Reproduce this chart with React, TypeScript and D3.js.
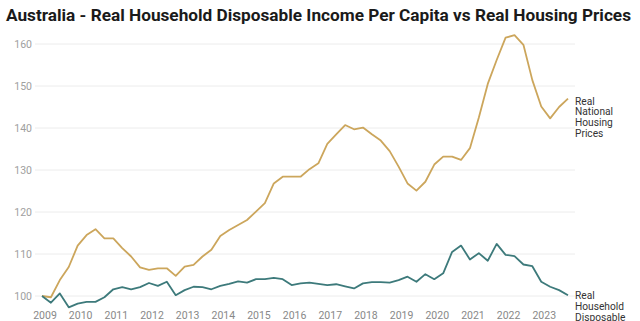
import React from "react";
import * as d3 from "d3";

const startYear = 2009;
const housing: number[] = [
  100, 99.7, 103.8, 106.9, 112, 114.5, 115.9, 113.7, 113.7, 111.4,
  109.4, 106.8, 106.2, 106.6, 106.6, 104.8, 107, 107.4, 109.4, 111,
  114.3, 115.7, 116.9, 118.1, 120.1, 122.1, 126.8, 128.4, 128.4, 128.4,
  130.2, 131.6, 136.2, 138.5, 140.7, 139.7, 140.1, 138.5, 137, 134.5,
  130.8, 126.8, 125.1, 127.2, 131.3, 133.2, 133.2, 132.4, 135.2, 142.5,
  150.5, 156.2, 161.5, 162.1, 159.8, 151.4, 145.1, 142.3, 145, 147,
];
const income: number[] = [
  100, 98.4, 100.6, 97.3, 98.2, 98.6, 98.6, 99.7, 101.6, 102.1,
  101.6, 102.1, 103.1, 102.4, 103.4, 100.2, 101.4, 102.2, 102.1, 101.6,
  102.4, 102.9, 103.5, 103.2, 104, 104, 104.3, 104, 102.6, 103,
  103.2, 102.9, 102.6, 102.8, 102.3, 101.8, 103, 103.3, 103.3, 103.2,
  103.8, 104.6, 103.4, 105.2, 104, 105.4, 110.5, 112, 108.7, 110.2,
  108.4, 112.4, 109.8, 109.5, 107.5, 107.1, 103.4, 102.2, 101.4, 100.2,
];
const yTicks = [100, 110, 120, 130, 140, 150, 160];
const xTicks = d3.range(2009, 2024);
const housingLabel = ["Real", "National", "Housing", "Prices"];
const incomeLabel = ["Real", "Household", "Disposable"];
const title = "Australia - Real Household Disposable Income Per Capita vs Real Housing Prices";

const W = 640;
const H = 321;

export default function App() {
  const x = d3.scaleLinear().domain([2009, 2023.75]).range([42, 568]);
  const y = d3.scaleLinear().domain([100, 160]).range([296, 44]);
  const line = d3
    .line<number>()
    .x((_, i) => x(startYear + i / 4))
    .y((d) => y(d))
    .curve(d3.curveLinear);
  const font = "Roboto, 'Noto Sans', sans-serif";
  return (
    <svg
      width={W}
      height={H}
      style={{ position: "absolute", left: 0, top: 0, background: "#fff" }}
      fontFamily={font}
    >
      <rect width={W} height={H} fill="#fff" />
      <text
        x={6}
        y={21}
        fontSize={17}
        fontWeight={700}
        fill="#1a1a1a"
        textLength={625}
        lengthAdjust="spacingAndGlyphs"
      >
        {title}
      </text>
      {yTicks.map((t) => (
        <g key={t}>
          <line x1={35} x2={575} y1={y(t)} y2={y(t)} stroke="#ececec" strokeWidth={1} />
          <text x={32} y={y(t) + 4} fontSize={10.5} fill="#a0a0a0" textAnchor="end">
            {t}
          </text>
        </g>
      ))}
      {xTicks.map((t) => (
        <text key={t} x={x(t) + 3} y={319} fontSize={10.5} fill="#888" textAnchor="middle">
          {t}
        </text>
      ))}
      <path d={line(housing) || ""} fill="none" stroke="#cca65c" strokeWidth={1.8} strokeLinejoin="round" />
      <path d={line(income) || ""} fill="none" stroke="#3d7a7b" strokeWidth={1.8} strokeLinejoin="round" />
      {housingLabel.map((s, i) => (
        <text key={s} x={575} y={y(housing[housing.length - 1]) + 6 + i * 10.8} fontSize={10.2} fill="#333">
          {s}
        </text>
      ))}
      {incomeLabel.map((s, i) => (
        <text key={s} x={575} y={y(income[income.length - 1]) + 4 + i * 10.8} fontSize={10.2} fill="#333">
          {s}
        </text>
      ))}
    </svg>
  );
}
